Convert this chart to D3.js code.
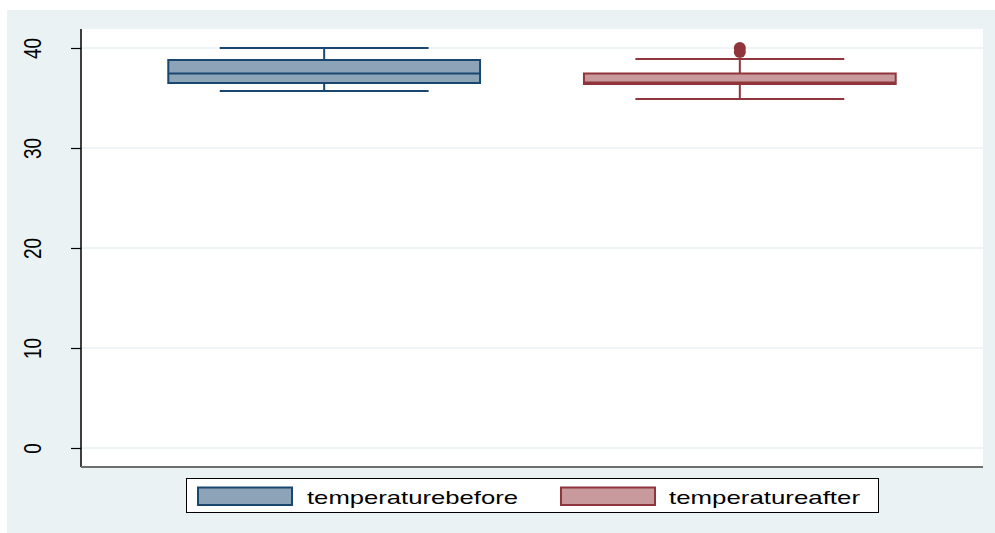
<!DOCTYPE html>
<html>
<head>
<meta charset="utf-8">
<script src="https://cdn.jsdelivr.net/npm/d3@7"></script>
<style>
  html, body { margin: 0; padding: 0; background: #ffffff; }
  svg { display: block; font-family: "Liberation Sans", Arial, sans-serif; }
</style>
</head>
<body>
<svg id="chart" width="995" height="533"></svg>
<script>
// Series names and their five-number summaries (lower whisker, Q1, median, Q3, upper whisker)
const seriesNames = ["temperaturebefore", "temperatureafter"];
const lowerWhisker = [35.7, 34.9];
const quartile1 = [36.5, 36.4];
const medians = [37.45, 36.55];
const quartile3 = [38.8, 37.45];
const upperWhisker = [40.0, 38.9];
const outliers = [[], [40.0, 39.6]];
const yTicks = [0, 10, 20, 30, 40];

const lineColors = ["#1a476f", "#90353b"];
const fillColors = ["#8ca3b8", "#c89a9d"];

const svg = d3.select("#chart");
const W = 995, H = 533;

// outer graph region
svg.append("rect").attr("x", 7).attr("y", 10).attr("width", W - 7).attr("height", H - 10)
  .attr("fill", "#eaf2f3");

const plot = { left: 81, right: 983, top: 29, bottom: 467 };

svg.append("rect").attr("x", plot.left).attr("y", plot.top)
  .attr("width", plot.right - plot.left).attr("height", plot.bottom - plot.top)
  .attr("fill", "#ffffff");

const y = d3.scaleLinear().domain([0, 40]).range([448, 48]);
const x = d3.scaleBand().domain(seriesNames).range([plot.left, plot.right])
  .paddingInner(0.25).paddingOuter(0.21);

// horizontal grid lines
svg.append("g").selectAll("line").data(yTicks).join("line")
  .attr("x1", plot.left).attr("x2", plot.right)
  .attr("y1", d => y(d)).attr("y2", d => y(d))
  .attr("stroke", "#eaf2f3").attr("stroke-width", 1.5);

// y axis with rotated tick labels (glyphs widened to the graph's aspect)
const yAxis = d3.axisLeft(y).tickValues(yTicks).tickSize(10).tickPadding(0).tickFormat(d3.format("d"));
const gy = svg.append("g").attr("transform", `translate(${plot.left},0)`).call(yAxis);
gy.select(".domain").remove();
gy.selectAll(".tick line").attr("stroke", "#000").attr("stroke-width", 1.2);
gy.selectAll(".tick text")
  .attr("x", null).attr("dy", null)
  .attr("transform", "translate(-40.5,0) rotate(-90) scale(1,1.3)")
  .attr("text-anchor", "middle")
  .attr("font-size", 19)
  .attr("font-family", "Liberation Sans, Arial, sans-serif")
  .attr("fill", "#000");

// axis lines
svg.append("line").attr("x1", plot.left).attr("x2", plot.left)
  .attr("y1", plot.top).attr("y2", plot.bottom)
  .attr("stroke", "#000").attr("stroke-width", 1.5);
svg.append("line").attr("x1", plot.left).attr("x2", plot.right)
  .attr("y1", plot.bottom).attr("y2", plot.bottom)
  .attr("stroke", "#6e6e6e").attr("stroke-width", 2);

// box plots
const boxes = svg.append("g");
seriesNames.forEach((name, i) => {
  const g = boxes.append("g");
  const x0 = x(name), bw = x.bandwidth(), cx = x0 + bw / 2;
  const capHalf = bw * 0.335;
  const stroke = lineColors[i];

  // whiskers
  g.append("line").attr("x1", cx).attr("x2", cx)
    .attr("y1", y(quartile3[i])).attr("y2", y(upperWhisker[i]))
    .attr("stroke", stroke).attr("stroke-width", 2);
  g.append("line").attr("x1", cx).attr("x2", cx)
    .attr("y1", y(quartile1[i])).attr("y2", y(lowerWhisker[i]))
    .attr("stroke", stroke).attr("stroke-width", 2);
  [upperWhisker[i], lowerWhisker[i]].forEach(v => {
    g.append("line").attr("x1", cx - capHalf).attr("x2", cx + capHalf)
      .attr("y1", y(v)).attr("y2", y(v))
      .attr("stroke", stroke).attr("stroke-width", 2);
  });

  // interquartile box
  g.append("rect").attr("x", x0).attr("y", y(quartile3[i]))
    .attr("width", bw).attr("height", y(quartile1[i]) - y(quartile3[i]))
    .attr("fill", fillColors[i]).attr("stroke", stroke).attr("stroke-width", 2);
  g.append("line").attr("x1", x0).attr("x2", x0 + bw)
    .attr("y1", y(medians[i])).attr("y2", y(medians[i]))
    .attr("stroke", stroke).attr("stroke-width", 2);

  // outside values
  g.selectAll("circle").data(outliers[i]).join("circle")
    .attr("cx", cx).attr("cy", d => y(d)).attr("r", 6)
    .attr("fill", stroke);
});

// legend
const legend = svg.append("g");
legend.append("rect").attr("x", 186.5).attr("y", 478.5).attr("width", 692).attr("height", 34)
  .attr("fill", "#ffffff").attr("stroke", "#000").attr("stroke-width", 1);
const legendItems = [
  { sx: 198, tx: 307, tw: 211 },
  { sx: 561, tx: 669, tw: 191 }
];
seriesNames.forEach((name, i) => {
  const it = legendItems[i];
  legend.append("rect").attr("x", it.sx).attr("y", 487.5).attr("width", 94).attr("height", 17.5)
    .attr("fill", fillColors[i]).attr("stroke", lineColors[i]).attr("stroke-width", 2);
  legend.append("text").attr("x", it.tx).attr("y", 503.5)
    .attr("font-size", 19)
    .attr("textLength", it.tw).attr("lengthAdjust", "spacingAndGlyphs")
    .attr("fill", "#000")
    .text(name);
});
</script>
</body>
</html>
